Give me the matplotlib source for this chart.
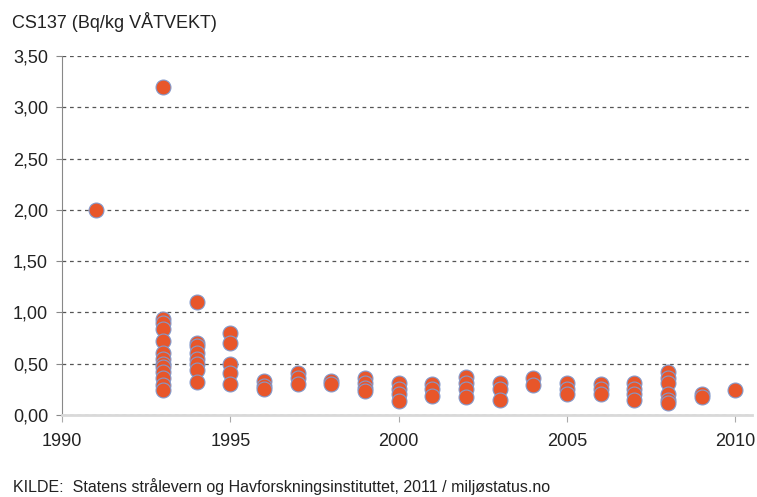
import matplotlib
matplotlib.use("Agg")
import matplotlib.pyplot as plt
from matplotlib.ticker import FuncFormatter

plt.rcParams['font.family'] = ['Liberation Sans', 'DejaVu Sans']

years = [1991, 1993, 1994, 1995, 1996, 1997, 1998, 1999, 2000, 2001, 2002,
         2003, 2004, 2005, 2006, 2007, 2008, 2009, 2010]
values = [
    [2.00],
    [3.20, 0.94, 0.90, 0.84, 0.72, 0.60, 0.55, 0.50, 0.47, 0.42, 0.36, 0.29, 0.24],
    [1.10, 0.70, 0.67, 0.60, 0.55, 0.50, 0.44, 0.32],
    [0.80, 0.70, 0.50, 0.41, 0.30],
    [0.33, 0.28, 0.25],
    [0.41, 0.36, 0.30],
    [0.33, 0.30],
    [0.36, 0.31, 0.26, 0.23],
    [0.31, 0.25, 0.20, 0.14],
    [0.30, 0.25, 0.19],
    [0.37, 0.31, 0.25, 0.18],
    [0.31, 0.25, 0.15],
    [0.36, 0.29],
    [0.31, 0.25, 0.20],
    [0.30, 0.25, 0.20],
    [0.31, 0.25, 0.20, 0.15],
    [0.42, 0.36, 0.31, 0.20, 0.15, 0.12],
    [0.20, 0.18],
    [0.24],
]
yticks = [0, 0.5, 1.0, 1.5, 2.0, 2.5, 3.0, 3.5]
xticks = [1990, 1995, 2000, 2005, 2010]

xs, ys = [], []
for yr, vals in zip(years, values):
    for v in vals:
        xs.append(yr)
        ys.append(v)

fig = plt.figure(figsize=(7.57, 4.97), dpi=100)
ax = fig.add_axes([0.0819, 0.165, 0.9115, 0.722])

ax.scatter(xs, ys, s=115, color='#E8562A', edgecolor='#8299CC', linewidth=0.8, zorder=3)

ax.set_xlim(1990, 2010.5)
ax.set_ylim(0, 3.5)
ax.set_yticks(yticks)
ax.set_xticks(xticks)
ax.yaxis.set_major_formatter(FuncFormatter(lambda v, p: f"{v:.2f}".replace('.', ',')))
ax.grid(axis='y', linestyle=(0, (3, 3)), color='#555555', linewidth=0.9)
ax.set_axisbelow(True)
for s in ['top', 'right']:
    ax.spines[s].set_visible(False)
ax.spines['left'].set_color('#888888')
ax.spines['left'].set_linewidth(0.8)
ax.spines['bottom'].set_color('#d9d9d9')
ax.spines['bottom'].set_linewidth(2.0)
ax.tick_params(axis='y', length=4, color='#888888', labelsize=13, pad=6, labelcolor='#222222')
ax.tick_params(axis='x', length=5, color='#aaaaaa', labelsize=13, pad=8, labelcolor='#222222')

fig.text(12/757, 1 - 22/497, "CS137 (Bq/kg VÅTVEKT)", fontsize=13, va='center', ha='left', color='#222222')
fig.text(13/757, 1 - 487/497, "KILDE:  Statens strålevern og Havforskningsinstituttet, 2011 / miljøstatus.no",
         fontsize=11.5, va='center', ha='left', color='#222222')

fig.savefig("out.png", dpi=100)
